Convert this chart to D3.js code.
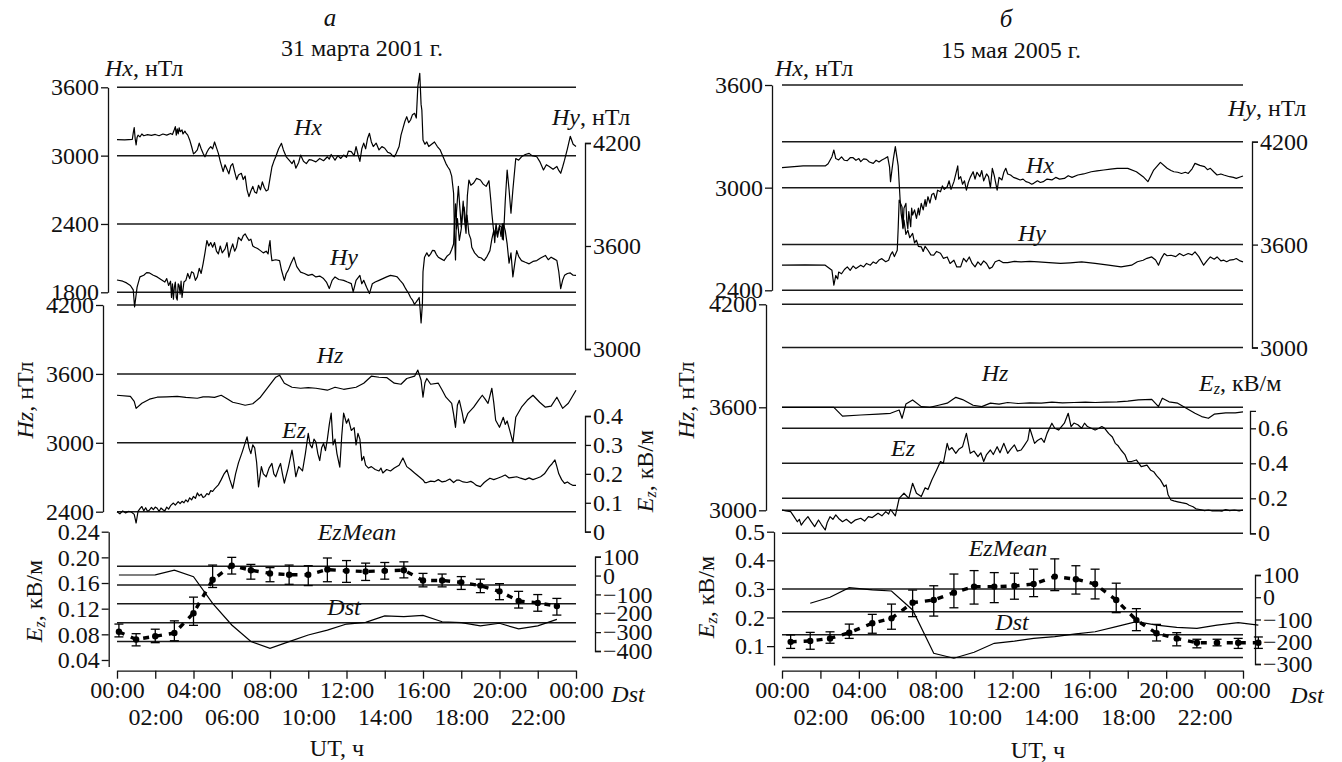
<!DOCTYPE html>
<html>
<head>
<meta charset="utf-8">
<script src="https://cdn.jsdelivr.net/npm/d3@7"></script>
<style>
  body { margin: 0; background: #fff; }
</style>
</head>
<body>
<svg id="chart" width="1342" height="762"></svg>
<script>
// ---- tick labels ----
const xTickHours = [0, 2, 4, 6, 8, 10, 12, 14, 16, 18, 20, 22, 24];
const hxTicksA = [1800, 2400, 3000, 3600];
const hyTicksA = [3000, 3600, 4200];
const hzTicksA = [2400, 3000, 3600, 4200];
const ezTicksA = [0, 0.1, 0.2, 0.3, 0.4];
const emTicksA = [0.04, 0.08, 0.12, 0.16, 0.20, 0.24];
const dstTicksA = [-400, -300, -200, -100, 0, 100];
const bottomGridA = [50, -50, -150, -250, -350];   // in Dst units

const hxTicksB = [2400, 3000, 3600];
const hyTicksB = [3000, 3600, 4200];
const hzTicksB = [3000, 3600, 4200];
const ezTicksB = [0, 0.2, 0.4, 0.6];
const emTicksB = [0.1, 0.2, 0.3, 0.4, 0.5];
const dstTicksB = [-300, -200, -100, 0, 100];
const bottomGridB = [0.3, 0.22, 0.14, 0.06];      // in Ez-mean units

// ---- panel a: 31 March 2001, [hour, value] ----
const hxA = [[0,3140],[0.4,3138],[0.8,3142],[0.85,3200],[0.9,3246],[0.95,3150],[1.0,3094],[1.05,3160],[1.1,3180],[1.2,3165],[1.3,3190],[1.4,3175],[1.6,3185],[1.8,3178],[2.0,3186],[2.2,3175],[2.4,3190],[2.6,3180],[2.8,3195],[2.9,3185],[3.0,3230],[3.05,3255],[3.1,3180],[3.15,3235],[3.2,3190],[3.25,3245],[3.3,3210],[3.4,3225],[3.45,3190],[3.55,3215],[3.6,3200],[3.7,3180],[3.8,3138],[3.9,3080],[4.0,3015],[4.1,3030],[4.2,3050],[4.3,3110],[4.4,3060],[4.5,3020],[4.6,2990],[4.7,3030],[4.8,3060],[4.9,3080],[5.0,3060],[5.1,3120],[5.2,3070],[5.3,3020],[5.4,2950],[5.5,2890],[5.55,2860],[5.65,2920],[5.75,2880],[5.85,2840],[5.95,2910],[6.05,2930],[6.15,2860],[6.26,2790],[6.35,2830],[6.5,2845],[6.6,2790],[6.7,2820],[6.8,2700],[6.9,2640],[7.0,2690],[7.1,2730],[7.2,2680],[7.3,2670],[7.4,2740],[7.5,2700],[7.6,2770],[7.7,2720],[7.8,2690],[7.9,2700],[8.0,2800],[8.1,2900],[8.2,2950],[8.3,2990],[8.45,3060],[8.6,3108],[8.7,3050],[8.85,2990],[9.0,2960],[9.15,2930],[9.25,2960],[9.35,2890],[9.5,2940],[9.6,3005],[9.75,2950],[9.9,2930],[10.05,2965],[10.2,2960],[10.4,2945],[10.6,2975],[10.8,2955],[11.0,2990],[11.1,2970],[11.2,3010],[11.4,2960],[11.55,3000],[11.7,2975],[11.85,3005],[12.0,2985],[12.1,3040],[12.25,3035],[12.4,3000],[12.5,3080],[12.6,3010],[12.7,2950],[12.8,3060],[12.9,3110],[13.0,3060],[13.1,3150],[13.2,3196],[13.3,3120],[13.4,3080],[13.55,3110],[13.7,3050],[13.85,3080],[14.0,3065],[14.15,3030],[14.3,3020],[14.4,3000],[14.5,2990],[14.6,3020],[14.75,3080],[14.85,3180],[14.95,3240],[15.05,3300],[15.15,3342],[15.25,3290],[15.35,3313],[15.45,3360],[15.56,3372],[15.65,3330],[15.73,3606],[15.83,3723],[15.9,3450],[15.94,3400],[16.0,3138],[16.1,3100],[16.2,3120],[16.3,3080],[16.45,3100],[16.6,3120],[16.75,3080],[16.9,3050],[17.05,2990],[17.2,2930],[17.3,2900],[17.4,2875],[17.5,2820],[17.6,2670],[17.65,2300],[17.7,2084],[17.75,2500],[17.85,2730],[17.92,2560],[18.0,2377],[18.1,2600],[18.18,2420],[18.25,2318],[18.32,2650],[18.4,2786],[18.5,2740],[18.65,2760],[18.8,2800],[19.0,2786],[19.15,2750],[19.3,2730],[19.45,2780],[19.55,2600],[19.6,2494],[19.68,2360],[19.75,2290],[19.82,2400],[19.9,2310],[20.0,2377],[20.08,2290],[20.15,2400],[20.2,2260],[20.3,2600],[20.4,2874],[20.5,2700],[20.6,2494],[20.7,2700],[20.85,2975],[21.0,2960],[21.15,2990],[21.35,3010],[21.55,3020],[21.7,3000],[21.95,2990],[22.1,2950],[22.3,2874],[22.45,2920],[22.6,2905],[22.8,2880],[23.0,2905],[23.1,2870],[23.2,2845],[23.3,2900],[23.4,2960],[23.55,3060],[23.7,3170],[23.85,3100],[24,3080]];
const hyA = [[0,3402],[0.3,3395],[0.5,3385],[0.7,3370],[0.85,3344],[0.92,3245],[0.97,3290],[1.05,3360],[1.2,3420],[1.4,3430],[1.55,3445],[1.7,3443],[1.9,3430],[2.1,3420],[2.3,3405],[2.5,3390],[2.6,3410],[2.7,3370],[2.8,3395],[2.85,3300],[2.9,3380],[2.95,3290],[3.0,3361],[3.05,3390],[3.1,3300],[3.15,3285],[3.2,3380],[3.25,3370],[3.3,3320],[3.35,3395],[3.4,3300],[3.5,3390],[3.6,3400],[3.7,3440],[3.8,3410],[3.9,3450],[4.0,3443],[4.1,3400],[4.2,3420],[4.3,3470],[4.4,3440],[4.5,3496],[4.6,3560],[4.7,3632],[4.8,3600],[4.9,3620],[5.0,3593],[5.1,3620],[5.2,3570],[5.3,3554],[5.4,3600],[5.5,3560],[5.65,3583],[5.75,3620],[5.85,3535],[5.95,3580],[6.05,3612],[6.15,3570],[6.25,3593],[6.35,3650],[6.5,3632],[6.6,3660],[6.7,3671],[6.8,3650],[6.9,3632],[7.0,3640],[7.1,3600],[7.2,3593],[7.35,3585],[7.5,3573],[7.65,3560],[7.8,3570],[7.9,3554],[7.95,3600],[8.0,3632],[8.05,3560],[8.1,3515],[8.3,3520],[8.5,3515],[8.6,3460],[8.75,3400],[8.85,3440],[8.95,3458],[9.1,3500],[9.25,3535],[9.4,3480],[9.6,3448],[9.8,3440],[10.0,3429],[10.2,3435],[10.4,3420],[10.6,3425],[10.8,3410],[10.95,3390],[11.1,3352],[11.25,3400],[11.4,3420],[11.6,3405],[11.85,3400],[12.05,3390],[12.25,3381],[12.35,3333],[12.5,3400],[12.7,3429],[12.8,3380],[12.9,3400],[13.05,3360],[13.2,3323],[13.35,3380],[13.5,3390],[13.7,3400],[13.9,3410],[14.1,3420],[14.3,3429],[14.5,3425],[14.65,3420],[14.8,3400],[14.95,3381],[15.1,3350],[15.25,3323],[15.35,3300],[15.45,3285],[15.55,3260],[15.65,3274],[15.75,3290],[15.8,3300],[15.85,3230],[15.9,3152],[15.97,3265],[16.0,3450],[16.08,3535],[16.2,3560],[16.3,3540],[16.4,3554],[16.5,3575],[16.6,3573],[16.7,3550],[16.8,3535],[16.95,3525],[17.1,3515],[17.25,3540],[17.4,3554],[17.5,3580],[17.6,3612],[17.65,3750],[17.7,3845],[17.75,3700],[17.8,3760],[17.9,3632],[18.0,3700],[18.08,3800],[18.15,3827],[18.25,3720],[18.3,3780],[18.4,3671],[18.5,3640],[18.55,3593],[18.7,3560],[18.9,3535],[19.05,3530],[19.2,3515],[19.35,3540],[19.5,3573],[19.6,3640],[19.7,3690],[19.75,3620],[19.8,3700],[19.9,3651],[20.0,3720],[20.1,3710],[20.15,3640],[20.2,3730],[20.3,3690],[20.4,3612],[20.5,3500],[20.6,3560],[20.7,3420],[20.8,3500],[20.9,3573],[21.0,3540],[21.15,3515],[21.35,3505],[21.55,3496],[21.75,3510],[21.95,3515],[22.15,3530],[22.4,3545],[22.55,3520],[22.7,3535],[22.85,3525],[23.0,3515],[23.1,3450],[23.2,3352],[23.3,3400],[23.4,3429],[23.55,3440],[23.7,3443],[23.85,3430],[24,3429]];
const hzA = [[0,3414],[0.7,3405],[0.9,3360],[1.0,3300],[1.3,3344],[1.7,3380],[2.1,3397],[2.6,3400],[3.15,3405],[3.6,3395],[4.2,3388],[4.5,3400],[4.8,3400],[5.1,3395],[5.45,3414],[5.8,3380],[6.05,3353],[6.4,3340],[6.7,3327],[7.1,3340],[7.5,3397],[7.9,3484],[8.3,3571],[8.5,3589],[8.75,3519],[9.15,3484],[9.6,3475],[10.0,3480],[10.4,3475],[11.0,3458],[11.4,3484],[11.85,3466],[12.5,3484],[12.9,3519],[13.3,3580],[13.7,3571],[14.1,3568],[14.5,3519],[14.85,3510],[15.15,3560],[15.56,3580],[15.73,3633],[15.9,3545],[16.0,3397],[16.1,3520],[16.2,3560],[16.4,3510],[16.8,3519],[17.0,3460],[17.2,3397],[17.5,3344],[17.6,3250],[17.7,3135],[17.8,3330],[17.9,3370],[18.05,3260],[18.15,3170],[18.35,3257],[18.65,3310],[18.9,3370],[19.1,3414],[19.25,3380],[19.4,3344],[19.6,3475],[19.7,3350],[19.8,3196],[20.0,3135],[20.2,3222],[20.3,3160],[20.4,3190],[20.55,3100],[20.7,3004],[20.85,3222],[21.15,3310],[21.45,3370],[21.75,3414],[22.1,3353],[22.4,3310],[22.7,3320],[23.0,3397],[23.3,3300],[23.6,3344],[24,3458]];
const ezA = [[0,0.069],[0.15,0.062],[0.3,0.072],[0.45,0.065],[0.6,0.07],[0.75,0.068],[0.9,0.06],[1.0,0.03],[1.1,0.07],[1.2,0.08],[1.3,0.087],[1.4,0.072],[1.5,0.083],[1.6,0.07],[1.7,0.075],[1.8,0.084],[1.9,0.076],[2.0,0.085],[2.1,0.081],[2.2,0.07],[2.3,0.082],[2.4,0.076],[2.5,0.072],[2.6,0.085],[2.7,0.078],[2.8,0.09],[2.95,0.099],[3.05,0.092],[3.2,0.104],[3.3,0.097],[3.4,0.105],[3.5,0.1],[3.6,0.11],[3.7,0.103],[3.8,0.117],[3.9,0.11],[4.0,0.122],[4.1,0.115],[4.2,0.134],[4.3,0.124],[4.4,0.13],[4.5,0.118],[4.6,0.122],[4.7,0.132],[4.8,0.128],[4.9,0.142],[5.0,0.139],[5.1,0.148],[5.2,0.155],[5.3,0.162],[5.45,0.18],[5.6,0.2],[5.75,0.214],[5.9,0.18],[6.05,0.15],[6.2,0.2],[6.35,0.238],[6.55,0.276],[6.8,0.328],[6.9,0.29],[7.0,0.27],[7.1,0.3],[7.2,0.29],[7.3,0.24],[7.4,0.155],[7.55,0.225],[7.65,0.2],[7.8,0.19],[7.95,0.22],[8.1,0.236],[8.2,0.2],[8.3,0.19],[8.45,0.22],[8.55,0.236],[8.65,0.2],[8.75,0.168],[8.95,0.22],[9.15,0.282],[9.25,0.24],[9.35,0.19],[9.5,0.225],[9.7,0.21],[9.85,0.27],[10.0,0.34],[10.1,0.3],[10.2,0.29],[10.3,0.32],[10.4,0.31],[10.5,0.27],[10.6,0.246],[10.7,0.29],[10.8,0.305],[10.9,0.28],[11.0,0.32],[11.1,0.37],[11.2,0.41],[11.3,0.3],[11.4,0.32],[11.5,0.27],[11.65,0.223],[11.75,0.33],[11.85,0.41],[12.0,0.375],[12.1,0.39],[12.25,0.35],[12.4,0.36],[12.5,0.30],[12.6,0.34],[12.7,0.32],[12.8,0.246],[12.9,0.26],[13.0,0.23],[13.15,0.22],[13.3,0.225],[13.5,0.215],[13.7,0.21],[13.8,0.22],[13.9,0.203],[14.1,0.215],[14.3,0.21],[14.5,0.22],[14.75,0.23],[14.95,0.255],[15.05,0.24],[15.15,0.225],[15.35,0.215],[15.56,0.203],[15.8,0.19],[16.0,0.179],[16.1,0.17],[16.2,0.17],[16.4,0.175],[16.6,0.173],[16.8,0.18],[17.0,0.172],[17.2,0.175],[17.4,0.182],[17.6,0.17],[17.75,0.178],[17.9,0.178],[18.1,0.172],[18.3,0.17],[18.5,0.174],[18.65,0.168],[18.8,0.16],[19.0,0.156],[19.2,0.17],[19.35,0.178],[19.5,0.185],[19.7,0.18],[19.9,0.185],[20.1,0.19],[20.3,0.196],[20.5,0.186],[20.7,0.188],[20.9,0.19],[21.1,0.185],[21.35,0.18],[21.55,0.186],[21.75,0.18],[21.95,0.185],[22.15,0.19],[22.35,0.2],[22.6,0.224],[22.75,0.235],[22.9,0.248],[23.0,0.225],[23.1,0.2],[23.25,0.18],[23.4,0.167],[23.55,0.172],[23.7,0.165],[23.85,0.16],[24,0.16]];
const meanHoursA = [0.1, 1, 2, 3, 4, 5, 6, 7, 8, 9, 10, 11, 12, 13, 14, 15, 16, 17, 18, 19, 20, 21, 22, 23];
const ezMeanA = [0.084,0.072,0.077,0.082,0.113,0.165,0.187,0.180,0.175,0.173,0.173,0.181,0.179,0.178,0.179,0.180,0.164,0.164,0.161,0.156,0.147,0.132,0.129,0.124];
const ezLowA  = [0.076,0.062,0.067,0.070,0.094,0.153,0.174,0.166,0.162,0.158,0.156,0.162,0.161,0.164,0.166,0.168,0.154,0.154,0.150,0.145,0.134,0.121,0.116,0.110];
const ezHighA = [0.096,0.081,0.088,0.101,0.138,0.188,0.200,0.189,0.184,0.188,0.187,0.199,0.195,0.191,0.192,0.193,0.175,0.174,0.170,0.166,0.159,0.147,0.142,0.136];
const dstA = [3,3,4,29,-6,-147,-262,-350,-386,-350,-315,-289,-257,-248,-214,-218,-211,-245,-250,-267,-253,-283,-267,-232];

// ---- panel б: 15 May 2005 ----
const hxB = [[0,3117],[1.1,3127],[2.25,3127],[2.4,3140],[2.6,3181],[2.7,3220],[2.8,3170],[2.95,3162],[3.1,3180],[3.25,3160],[3.4,3158],[3.55,3175],[3.7,3175],[3.85,3160],[4.0,3170],[4.1,3152],[4.25,3168],[4.4,3165],[4.55,3150],[4.75,3142],[4.9,3160],[5.05,3150],[5.2,3162],[5.35,3170],[5.5,3181],[5.6,3120],[5.65,3035],[5.72,3100],[5.8,3170],[5.9,3240],[6.05,3127],[6.15,2928],[6.2,2850],[6.25,2811],[6.3,2760],[6.35,2880],[6.45,2908],[6.5,2800],[6.55,2760],[6.6,2860],[6.7,2772],[6.75,2880],[6.8,2840],[6.9,2870],[7.0,2820],[7.1,2880],[7.15,2840],[7.25,2908],[7.35,2870],[7.45,2930],[7.5,2890],[7.6,2947],[7.7,2910],[7.8,2960],[7.9,2967],[8.0,2930],[8.1,2985],[8.25,2976],[8.35,3010],[8.45,2990],[8.6,3005],[8.7,3040],[8.8,2990],[8.95,3035],[9.05,3080],[9.15,3127],[9.2,3050],[9.3,3064],[9.4,3020],[9.5,3040],[9.6,2986],[9.7,3030],[9.8,3060],[9.95,3093],[10.05,3050],[10.15,3090],[10.3,3064],[10.4,3100],[10.5,3040],[10.65,3080],[10.75,3064],[10.85,3000],[10.95,3113],[11.05,3070],[11.2,2986],[11.3,3060],[11.45,3045],[11.55,3090],[11.65,3113],[11.75,3080],[11.9,3074],[12.05,3060],[12.2,3054],[12.4,3045],[12.55,3050],[12.7,3035],[12.85,3030],[13.0,3020],[13.1,3025],[13.3,3040],[13.45,3030],[13.6,3035],[13.8,3050],[14.05,3045],[14.25,3060],[14.45,3050],[14.7,3054],[14.9,3070],[15.1,3060],[15.4,3074],[15.7,3080],[16.1,3093],[16.4,3098],[16.75,3103],[17.1,3108],[17.45,3113],[18.0,3113],[18.45,3093],[18.8,3064],[19.05,3035],[19.35,3103],[19.7,3148],[20.05,3113],[20.25,3100],[20.4,3093],[20.6,3090],[20.8,3083],[21.0,3090],[21.15,3083],[21.35,3110],[21.5,3142],[21.75,3130],[22.0,3123],[22.15,3105],[22.3,3113],[22.5,3090],[22.65,3074],[22.85,3080],[23.0,3074],[23.3,3064],[23.5,3060],[23.65,3054],[23.85,3062],[24,3068]];
const hyB = [[0,3480],[1.2,3482],[2.25,3480],[2.6,3450],[2.7,3363],[2.8,3420],[2.9,3400],[2.95,3440],[3.1,3430],[3.25,3455],[3.4,3470],[3.55,3450],[3.7,3475],[3.85,3460],[4.1,3480],[4.25,3470],[4.4,3490],[4.6,3480],[4.75,3499],[4.9,3490],[5.05,3510],[5.2,3518],[5.4,3500],[5.55,3509],[5.65,3540],[5.75,3558],[5.85,3530],[6.0,3567],[6.05,3700],[6.1,3860],[6.25,3820],[6.3,3700],[6.35,3743],[6.45,3660],[6.55,3684],[6.65,3640],[6.8,3665],[6.9,3610],[7.0,3626],[7.1,3590],[7.25,3587],[7.35,3560],[7.45,3590],[7.6,3567],[7.75,3540],[7.9,3538],[8.05,3560],[8.25,3550],[8.4,3520],[8.6,3528],[8.75,3490],[8.95,3509],[9.1,3470],[9.3,3470],[9.45,3520],[9.6,3500],[9.75,3528],[9.9,3490],[10.05,3470],[10.2,3499],[10.35,3480],[10.5,3505],[10.65,3490],[10.8,3460],[10.95,3470],[11.1,3500],[11.3,3509],[11.5,3495],[11.75,3495],[12.1,3502],[12.45,3499],[12.9,3502],[13.35,3499],[13.9,3495],[14.5,3490],[15.0,3494],[15.6,3499],[16.3,3490],[17.0,3480],[17.65,3470],[18.2,3480],[18.5,3500],[18.8,3509],[19.0,3520],[19.25,3528],[19.45,3510],[19.6,3480],[19.75,3520],[19.9,3548],[20.05,3535],[20.25,3538],[20.5,3530],[20.7,3548],[20.9,3535],[21.15,3548],[21.35,3540],[21.5,3558],[21.7,3530],[21.95,3480],[22.15,3510],[22.3,3528],[22.5,3515],[22.65,3528],[22.85,3505],[23.0,3509],[23.15,3500],[23.3,3509],[23.5,3512],[23.65,3519],[23.85,3505],[24,3499]];
const hzB = [[0,3600],[2.7,3600],[3.15,3549],[4.1,3555],[5.0,3560],[5.65,3565],[6.1,3584],[6.25,3536],[6.45,3619],[6.8,3643],[7.25,3604],[7.7,3600],[8.15,3612],[8.6,3624],[9.05,3658],[9.4,3645],[9.95,3612],[10.4,3604],[10.85,3624],[11.3,3618],[11.75,3628],[12.3,3622],[12.9,3626],[13.5,3624],[14.05,3630],[14.6,3626],[15.2,3628],[15.8,3630],[16.3,3628],[16.9,3630],[17.45,3632],[18.0,3636],[18.55,3643],[19.25,3646],[19.6,3604],[19.8,3653],[20.15,3632],[20.6,3624],[21.05,3594],[21.5,3565],[21.85,3546],[22.2,3536],[22.5,3560],[23.1,3567],[23.6,3568],[24,3573]];
const ezB = [[0,0.133],[0.2,0.128],[0.45,0.124],[0.6,0.1],[0.8,0.066],[0.9,0.08],[1.0,0.047],[1.15,0.07],[1.35,0.095],[1.5,0.07],[1.7,0.038],[1.9,0.076],[2.05,0.05],[2.25,0.019],[2.35,0.06],[2.5,0.095],[2.65,0.08],[2.8,0.105],[2.95,0.085],[3.15,0.066],[3.35,0.08],[3.6,0.057],[3.8,0.075],[4.1,0.086],[4.3,0.07],[4.5,0.095],[4.7,0.09],[5.0,0.114],[5.2,0.1],[5.4,0.124],[5.55,0.11],[5.65,0.136],[5.9,0.1],[6.1,0.2],[6.35,0.229],[6.6,0.2],[6.8,0.286],[7.0,0.229],[7.25,0.21],[7.45,0.26],[7.6,0.25],[7.8,0.305],[8.05,0.362],[8.25,0.41],[8.4,0.4],[8.6,0.514],[8.7,0.476],[8.85,0.49],[9.05,0.457],[9.2,0.48],[9.4,0.495],[9.6,0.571],[9.8,0.457],[10.0,0.47],[10.2,0.438],[10.35,0.46],[10.5,0.41],[10.65,0.45],[10.85,0.476],[11.0,0.45],[11.2,0.495],[11.35,0.46],[11.55,0.514],[11.75,0.457],[11.9,0.48],[12.1,0.505],[12.25,0.47],[12.45,0.476],[12.6,0.5],[12.8,0.533],[12.9,0.6],[13.15,0.514],[13.3,0.53],[13.5,0.543],[13.65,0.52],[13.8,0.571],[14.05,0.629],[14.2,0.6],[14.4,0.59],[14.55,0.61],[14.7,0.629],[14.9,0.686],[15.05,0.61],[15.2,0.63],[15.4,0.62],[15.6,0.6],[15.75,0.629],[15.9,0.61],[16.1,0.6],[16.3,0.59],[16.5,0.6],[16.65,0.61],[16.8,0.6],[17.0,0.571],[17.2,0.55],[17.35,0.514],[17.5,0.5],[17.65,0.476],[17.85,0.45],[18.0,0.41],[18.2,0.41],[18.45,0.419],[18.7,0.381],[19.0,0.39],[19.2,0.36],[19.35,0.352],[19.5,0.33],[19.7,0.305],[19.9,0.267],[20.0,0.276],[20.1,0.22],[20.25,0.19],[20.4,0.185],[20.6,0.18],[20.8,0.175],[21.05,0.17],[21.2,0.16],[21.4,0.152],[21.55,0.14],[21.75,0.136],[22.0,0.13],[22.2,0.133],[22.4,0.128],[22.65,0.13],[22.9,0.127],[23.1,0.136],[23.3,0.13],[23.55,0.133],[23.8,0.128],[24,0.133]];
const meanHoursB = [0.45,1.47,2.5,3.5,4.7,5.7,6.8,7.9,8.95,10.0,11.05,12.1,13.1,14.2,15.3,16.3,17.4,18.45,19.5,20.55,21.6,22.65,23.75,24.8];
const ezMeanB = [0.115,0.118,0.127,0.147,0.180,0.197,0.252,0.261,0.287,0.308,0.308,0.310,0.317,0.343,0.334,0.317,0.261,0.191,0.145,0.127,0.112,0.112,0.112,0.112];
const ezLowB  = [0.092,0.089,0.110,0.127,0.145,0.159,0.203,0.205,0.234,0.247,0.252,0.264,0.273,0.294,0.282,0.265,0.217,0.154,0.118,0.101,0.094,0.101,0.092,0.092];
const ezHighB = [0.139,0.148,0.150,0.177,0.211,0.247,0.296,0.311,0.352,0.364,0.357,0.355,0.369,0.405,0.381,0.369,0.320,0.231,0.176,0.147,0.124,0.124,0.127,0.132];
const dstB = [null,-27,0,43,33,28,-57,-252,-274,-247,-207,-197,-185,-177,-165,-155,-132,-110,-125,-135,-140,-125,-114,-125];

const svg = d3.select("#chart");
const FONT = "Liberation Serif, Times New Roman, DejaVu Serif, serif";
const FS = 24;

// layout of the two panels (pixels)
const panels = [
  {
    x0: 117, x1: 576, xAxisY: 670.7,
    hx: { dom: [1800, 3600], rng: [292.3, 87.3], ax: 108, ticks: hxTicksA },
    hy: { dom: [3000, 4200], rng: [349, 143], ax: 585, ticks: hyTicksA },
    hz: { dom: [2400, 4200], rng: [511.7, 305], ax: 103, ticks: hzTicksA },
    ez: { dom: [0, 0.4], rng: [531.7, 416], ax: 585, ticks: ezTicksA, fmt: d => d === 0 ? "0" : d3.format(".1f")(d) },
    em: { dom: [0.03, 0.24], rng: [666.4, 531.7], ax: 108.7, ticks: emTicksA, fmt: d3.format(".2f") },
    dst: { dom: [-400, 100], rng: [651, 556.7], ax: 595, ticks: dstTicksA },
    data: { hx: hxA, hy: hyA, hz: hzA, ez: ezA, mt: meanHoursA, mean: ezMeanA, lo: ezLowA, hi: ezHighA, dst: dstA },
    grids: [["hx", hxTicksA], ["hz", hzTicksA], ["dst", bottomGridA]],
    letter: ["а", 330, 17], date: ["31 марта 2001 г.", 362, 48],
    hxLab: [105, 68], hyLab: [552, 117], ezLab: { rot: true, x: 645, y: 471 },
    hzRot: [25, 400], emRot: [34, 601], dstLab: [628, 694], ut: [337, 748],
    names: [["Hx", 308, 127], ["Hy", 344, 257], ["Hz", 330, 355], ["Ez", 294, 430], ["EzMean", 357, 532], ["Dst", 344, 607]]
  },
  {
    x0: 782, x1: 1243, xAxisY: 670.7,
    hx: { dom: [2400, 3600], rng: [290.3, 85], ax: 772, ticks: hxTicksB },
    hy: { dom: [3000, 4200], rng: [347.5, 141.7], ax: 1252, ticks: hyTicksB },
    hz: { dom: [3000, 4200], rng: [510.3, 304.3], ax: 766, ticks: hzTicksB },
    ez: { dom: [0, 0.7], rng: [533.3, 410.8], ax: 1250, ticks: ezTicksB, fmt: d => d === 0 ? "0" : d3.format(".1f")(d) },
    em: { dom: [0.034, 0.5], rng: [665, 531.7], ax: 774, ticks: emTicksB, fmt: d3.format(".1f") },
    dst: { dom: [-300, 100], rng: [664, 575], ax: 1255, ticks: dstTicksB },
    data: { hx: hxB, hy: hyB, hz: hzB, ez: ezB, mt: meanHoursB, mean: ezMeanB, lo: ezLowB, hi: ezHighB, dst: dstB },
    grids: [["hx", hxTicksB], ["hy", hyTicksB], ["hz", hzTicksB], ["ez", ezTicksB], ["em", bottomGridB]],
    letter: ["б", 1006, 18], date: ["15 мая 2005 г.", 1011, 50],
    hxLab: [775, 68], hyLab: [1228, 108], ezLab: { rot: false, x: 1199, y: 383 },
    hzRot: [686, 400], emRot: [706, 597], dstLab: [1307, 695], ut: [1038, 750],
    names: [["Hx", 1040, 165], ["Hy", 1032, 233], ["Hz", 995, 373], ["Ez", 903, 448], ["EzMean", 1008, 548], ["Dst", 1012, 622]]
  }
];

function styleAxis(g) {
  g.attr("font-family", FONT).attr("font-size", FS);
  g.selectAll("path, line").attr("stroke", "#111").attr("stroke-width", 1.3);
  g.selectAll("text").attr("fill", "#111");
}

function txt(x, y, s, opts = {}) {
  return svg.append("text")
    .attr("x", x).attr("y", y)
    .attr("font-family", FONT)
    .attr("dominant-baseline", "central")
    .attr("text-anchor", opts.anchor || "middle")
    .attr("font-size", opts.size || FS)
    .attr("font-style", opts.italic ? "italic" : null)
    .attr("fill", "#111")
    .text(s);
}

// "Ez, кВ/м" with subscript z
function ezUnits(sel) {
  sel.append("tspan").attr("font-style", "italic").text("E");
  sel.append("tspan").attr("font-style", "italic").attr("font-size", 16).attr("dy", 5).text("z");
  sel.append("tspan").attr("dy", -5).text(", кВ/м");
}

function varUnits(sel, v) {
  sel.append("tspan").attr("font-style", "italic").text(v);
  sel.append("tspan").text(", нТл");
}

panels.forEach(P => {
  const x = d3.scaleLinear().domain([0, 24]).range([P.x0, P.x1]);
  const sc = {};
  ["hx", "hy", "hz", "ez", "em", "dst"].forEach(k => {
    sc[k] = d3.scaleLinear().domain(P[k].dom).range(P[k].rng);
  });
  const D = P.data;

  // grid lines
  const gGrid = svg.append("g");
  P.grids.forEach(([k, vals]) => {
    gGrid.selectAll(null).data(vals).join("line")
      .attr("x1", P.x0).attr("x2", P.x1)
      .attr("y1", d => sc[k](d)).attr("y2", d => sc[k](d))
      .attr("stroke", "#1a1a1a").attr("stroke-width", 1.5);
  });

  // axes
  const leftAx = (k) => {
    const a = d3.axisLeft(sc[k]).tickValues(P[k].ticks).tickSize(7).tickSizeOuter(0).tickPadding(2);
    if (P[k].fmt) a.tickFormat(P[k].fmt); else a.tickFormat(d3.format("d"));
    svg.append("g").attr("transform", `translate(${P[k].ax},0)`).call(a).call(styleAxis);
  };
  const rightAx = (k) => {
    const a = d3.axisRight(sc[k]).tickValues(P[k].ticks).tickSize(6).tickSizeOuter(6).tickPadding(2);
    if (P[k].fmt) a.tickFormat(P[k].fmt); else a.tickFormat(d3.format("d"));
    svg.append("g").attr("transform", `translate(${P[k].ax},0)`).call(a).call(styleAxis);
  };
  leftAx("hx"); leftAx("hz"); leftAx("em");
  rightAx("hy"); rightAx("ez"); rightAx("dst");

  const xa = d3.axisBottom(x).tickValues(xTickHours).tickSize(8).tickSizeOuter(0)
    .tickFormat(d => String(d % 24).padStart(2, "0") + ":00");
  const gx = svg.append("g").attr("transform", `translate(0,${P.xAxisY})`).call(xa).call(styleAxis);
  gx.selectAll(".tick text").attr("dy", null).attr("dominant-baseline", "central")
    .attr("y", (d, i) => i % 2 === 0 ? 19.5 : 46);

  // data lines
  const line = (ys) => d3.line().x(d => x(d[0])).y(d => ys(d[1]));
  [["hx", D.hx], ["hy", D.hy], ["hz", D.hz], ["ez", D.ez]].forEach(([k, arr]) => {
    svg.append("path").datum(arr).attr("d", line(sc[k]))
      .attr("fill", "none").attr("stroke", "#000").attr("stroke-width", 1.2)
      .attr("stroke-linejoin", "round");
  });

  // Dst line
  const dstPts = D.mt.map((t, i) => [t, D.dst[i]]);
  svg.append("path").datum(dstPts)
    .attr("d", d3.line().defined(d => d[1] !== null).x(d => x(d[0])).y(d => sc.dst(d[1])))
    .attr("fill", "none").attr("stroke", "#000").attr("stroke-width", 1.2);

  // EzMean with error bars
  const meanPts = D.mt.map((t, i) => [t, D.mean[i], D.lo[i], D.hi[i]]);
  const gE = svg.append("g").attr("stroke", "#000").attr("stroke-width", 1.3);
  gE.selectAll(null).data(meanPts).join("line")
    .attr("x1", d => x(d[0])).attr("x2", d => x(d[0]))
    .attr("y1", d => sc.em(d[2])).attr("y2", d => sc.em(d[3]));
  [2, 3].forEach(j => {
    gE.selectAll(null).data(meanPts).join("line")
      .attr("x1", d => x(d[0]) - 4.5).attr("x2", d => x(d[0]) + 4.5)
      .attr("y1", d => sc.em(d[j])).attr("y2", d => sc.em(d[j]));
  });
  svg.append("path").datum(meanPts)
    .attr("d", d3.line().x(d => x(d[0])).y(d => sc.em(d[1])))
    .attr("fill", "none").attr("stroke", "#000").attr("stroke-width", 3.4)
    .attr("stroke-dasharray", "6,7");
  svg.selectAll(null).data(meanPts).join("circle")
    .attr("cx", d => x(d[0])).attr("cy", d => sc.em(d[1])).attr("r", 3.2).attr("fill", "#000");

  // texts
  txt(P.letter[1], P.letter[2], P.letter[0], { italic: true, size: 25 });
  txt(P.date[1], P.date[2], P.date[0]);
  txt(P.hxLab[0], P.hxLab[1], "", { anchor: "start" }).call(varUnits, "Hx");
  txt(P.hyLab[0], P.hyLab[1], "", { anchor: "start" }).call(varUnits, "Hy");
  if (P.ezLab.rot) {
    txt(0, 0, "").attr("transform", `translate(${P.ezLab.x},${P.ezLab.y}) rotate(-90)`).call(ezUnits);
  } else {
    txt(P.ezLab.x, P.ezLab.y, "", { anchor: "start" }).call(ezUnits);
  }
  txt(0, 0, "").attr("transform", `translate(${P.hzRot[0]},${P.hzRot[1]}) rotate(-90)`).call(varUnits, "Hz");
  txt(0, 0, "").attr("transform", `translate(${P.emRot[0]},${P.emRot[1]}) rotate(-90)`).call(ezUnits);
  txt(P.dstLab[0], P.dstLab[1], "Dst", { italic: true });
  txt(P.ut[0], P.ut[1], "UT, ч");
  P.names.forEach(([s, nx, ny]) => txt(nx, ny, s, { italic: true }));
});
</script>
</body>
</html>
